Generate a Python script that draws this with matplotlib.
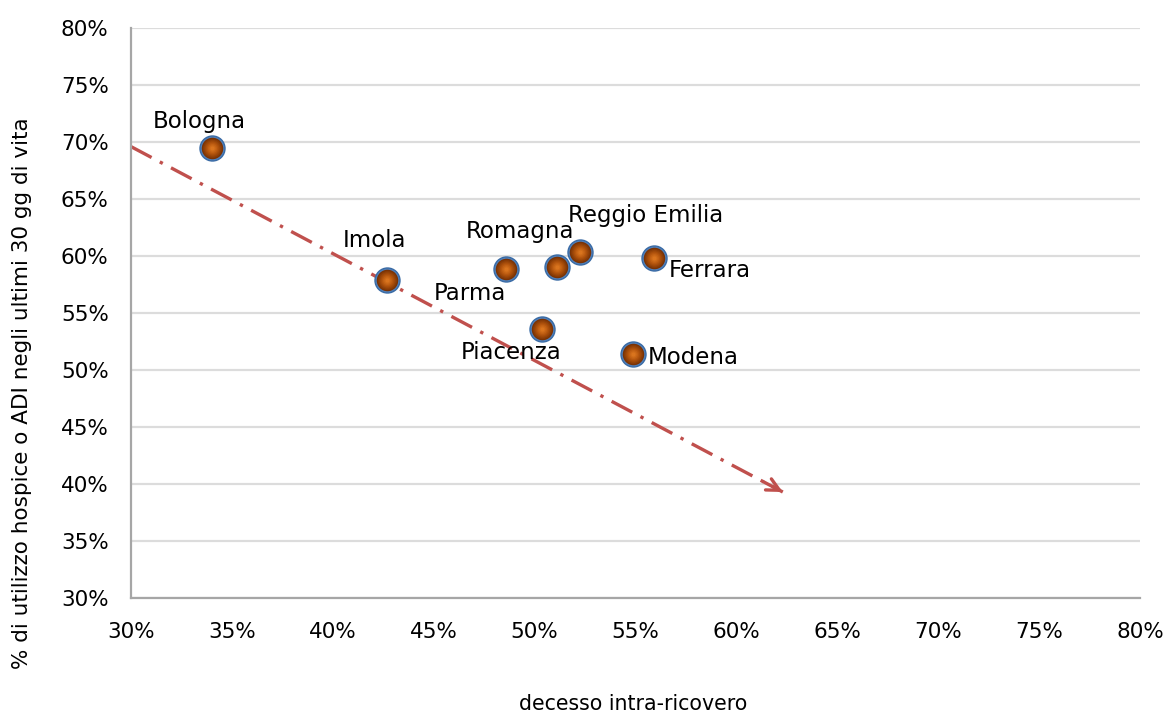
#!/usr/bin/env python3

import numpy as np
import matplotlib
matplotlib.use('Agg')
import matplotlib.pyplot as plt
from matplotlib.colors import LinearSegmentedColormap
from matplotlib.ticker import MultipleLocator, FuncFormatter

# decesso intra-ricovero (%) vs uso hospice/ADI negli ultimi 30 gg (%)
aziende = ['Bologna', 'Imola', 'Parma', 'Romagna', 'Reggio Emilia',
           'Ferrara', 'Piacenza', 'Modena']
decesso = [34.0, 42.7, 48.6, 51.1, 52.25, 55.9, 50.35, 54.9]
hospice = [69.45, 57.9, 58.85, 59.05, 60.35, 59.8, 53.6, 51.4]

# label offsets in pixels from each point
label_dx = [-12, -13, -36, -37, 66, 56, -31, 60]
label_dy = [27, 39, -24, 35, 37, -12, -24, -3]

# trend arrow
trend_x = [30, 62.3]
trend_y = [69.6, 39.3]

plt.rcParams['font.family'] = ['DejaVu Sans']

fig = plt.figure(figsize=(11.66, 7.15), dpi=100)
ax = fig.add_axes([0.1123, 0.1636, 0.8654, 0.7972])

ax.set_xlim(30, 80)
ax.set_ylim(30, 80)
ax.xaxis.set_major_locator(MultipleLocator(5))
ax.yaxis.set_major_locator(MultipleLocator(5))
pct = FuncFormatter(lambda v, p: "%d%%" % round(v))
ax.xaxis.set_major_formatter(pct)
ax.yaxis.set_major_formatter(pct)
ax.tick_params(length=0, labelsize=15.5)
ax.tick_params(axis='y', pad=16)
ax.tick_params(axis='x', pad=17)
ax.grid(True, axis='y', color='#DCDCDC', lw=1.6)
ax.set_axisbelow(True)
for s in ['top', 'right']:
    ax.spines[s].set_visible(False)
for s in ['left', 'bottom']:
    ax.spines[s].set_color('#A6A6A6')
    ax.spines[s].set_linewidth(1.6)

# dash-dot trend line with open arrow head
ax.plot(trend_x, trend_y, color='#C0504D', lw=2.4,
        dashes=(7, 2.8, 1, 2.8), zorder=2)
dx = trend_x[1] - trend_x[0]
dy = trend_y[1] - trend_y[0]
ax.annotate('', xy=(trend_x[1], trend_y[1]),
            xytext=(trend_x[1] - dx * 0.03, trend_y[1] - dy * 0.03),
            arrowprops=dict(arrowstyle='->,head_length=0.9,head_width=0.45',
                            color='#C0504D', lw=2.4, shrinkA=0, shrinkB=0),
            zorder=2)

# shaded balls: blue rim then an orange-brown radial fill
ax.plot(decesso, hospice, 'o', ms=18, mfc='#4F81BD', mec='#3A6BA5',
        mew=1, zorder=3)
shade = LinearSegmentedColormap.from_list('ball', ['#7A3305', '#B0520C', '#D9741E'])
for i, size in enumerate(np.linspace(15.5, 3, 8)):
    ax.plot(decesso, hospice, 'o', ms=size, mew=0,
            mfc=shade(i / 7), zorder=4 + i)

for name, x, y, ox, oy in zip(aziende, decesso, hospice, label_dx, label_dy):
    ax.annotate(name, (x, y), xytext=(ox, oy), textcoords='offset pixels',
                ha='center', va='center', fontsize=16.5, zorder=20)

fig.text(0.543, 0.016, 'decesso intra-ricovero', ha='center', va='center',
         fontsize=14.8)
fig.text(0.019, 0.45, '% di utilizzo hospice o ADI negli ultimi 30 gg di vita',
         ha='center', va='center', rotation=90, fontsize=15.5)

fig.savefig('out.png', dpi=100)
